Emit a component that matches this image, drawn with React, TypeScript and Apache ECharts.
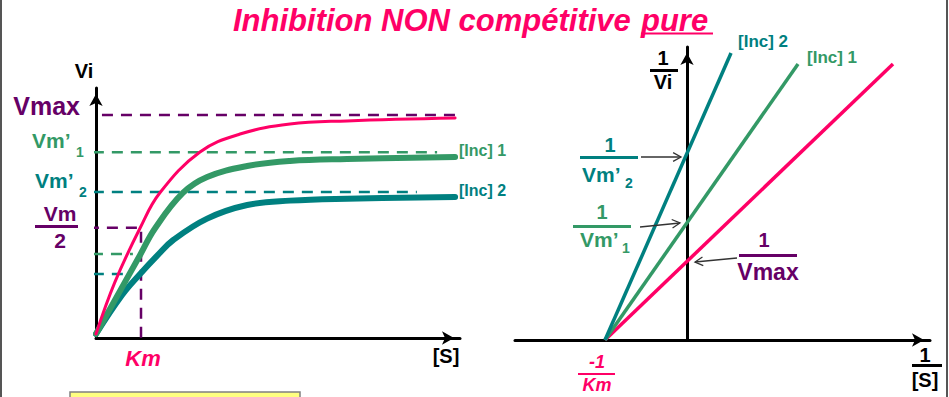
import React, { useEffect, useRef } from 'react';
import * as echarts from 'echarts';

const FONT = '"Liberation Sans", Arial, sans-serif';
const PINK = '#ff0066';
const GREEN = '#339966';
const TEAL = '#008080';
const PURPLE = '#660066';

// ---- Left panel: Michaelis-Menten curves (x in Km units, y in Vmax units)
const curveNoInhibitor = [
  [0, 0], [0.42, 0.237], [0.98, 0.484], [1.42, 0.645], [2.31, 0.831],
  [3.2, 0.913], [4.31, 0.959], [5.58, 0.973], [7.98, 0.986],
];
const curveInc1 = [
  [0, 0], [0.98, 0.361], [1.31, 0.482], [1.93, 0.644], [2.47, 0.717],
  [3.36, 0.767], [4.31, 0.79], [5.58, 0.799], [7.98, 0.808],
];
const curveInc2 = [
  [0, 0], [0.58, 0.178], [0.98, 0.274], [1.36, 0.358], [1.71, 0.428],
  [2.47, 0.527], [3.36, 0.589], [4.31, 0.609], [5.58, 0.618], [7.98, 0.626],
];
const vmax = 1.0;
const vmPrime1 = 0.83;
const vmPrime2 = 0.648;
const halfVmax = 0.485;
const km = 1.0;
const vAtKmInc1 = 0.365;
const vAtKmInc2 = 0.274;

// ---- Right panel: Lineweaver-Burk lines (x = 1/[S], y = 1/Vi)
const minusInvKm = -1.0;
const lbEndNoInhibitor = [2.512, 3.366];
const lbEndInc1 = [1.354, 3.366];
const lbEndInc2 = [0.537, 3.5];

const txt = (text: string, x: number, y: number, color: string, size: number, opts: any = {}) => ({
  type: 'text', x, y, silent: true, z: 10,
  style: {
    text, fill: color, fontSize: size, fontWeight: 'bold', fontFamily: FONT,
    fontStyle: opts.italic ? 'italic' : 'normal', align: opts.align || 'center', verticalAlign: 'middle',
  },
});
const bar = (x1: number, x2: number, y: number, color: string, h = 3) => ({
  type: 'rect', silent: true, z: 10, shape: { x: x1, y: y - h / 2, width: x2 - x1, height: h }, style: { fill: color },
});
const arrow = (x1: number, y1: number, x2: number, y2: number) => {
  const a = Math.atan2(y2 - y1, x2 - x1);
  const L = 9, s = 0.5;
  const p1 = [x2 - L * Math.cos(a - s), y2 - L * Math.sin(a - s)];
  const p2 = [x2 - L * Math.cos(a + s), y2 - L * Math.sin(a + s)];
  const st = { stroke: '#333', lineWidth: 1.3, fill: null };
  return [
    { type: 'line', silent: true, z: 10, shape: { x1, y1, x2, y2 }, style: st },
    { type: 'polyline', silent: true, z: 10, shape: { points: [p1, [x2, y2], p2] }, style: st },
  ];
};

const axisLine = (onZero: boolean) => ({
  show: true, onZero, symbol: ['none', 'arrow'], symbolSize: [10, 12], symbolOffset: [0, -6],
  lineStyle: { color: '#000', width: 3 },
});
const hiddenBits = { axisTick: { show: false }, axisLabel: { show: false }, splitLine: { show: false } };

const guide = (data: number[][], color: string, width = 2.5) => ({
  type: 'line', xAxisIndex: 0, yAxisIndex: 0, data, symbol: 'none', clip: false, silent: true,
  lineStyle: { color, width, type: [11, 8] }, z: 1,
});
const curve = (data: number[][], color: string, width: number) => ({
  type: 'line', xAxisIndex: 0, yAxisIndex: 0, data, symbol: 'none', smooth: 0.4,
  lineStyle: { color, width, cap: 'round', join: 'round' }, z: 3, silent: true,
});
const lbLine = (end: number[], color: string) => ({
  type: 'line', xAxisIndex: 1, yAxisIndex: 1, data: [[minusInvKm, 0], end], symbol: 'none', clip: false,
  lineStyle: { color, width: 3.5 }, z: 3, silent: true,
});

export default function App() {
  const ref = useRef<HTMLDivElement>(null);
  useEffect(() => {
    document.body.style.margin = '0';
    const chart = echarts.init(ref.current!, null, { renderer: 'svg' });
    const option: any = {
      animation: false,
      backgroundColor: '#fff',
      grid: [
        { left: 96, top: 88, width: 364, height: 250 },
        { left: 515, top: 47, width: 415, height: 293 },
      ],
      xAxis: [
        { type: 'value', gridIndex: 0, min: 0, max: 364 / 45, axisLine: axisLine(false), ...hiddenBits },
        { type: 'value', gridIndex: 1, min: -172 / 82, max: 243 / 82, axisLine: axisLine(true), ...hiddenBits },
      ],
      yAxis: [
        { type: 'value', gridIndex: 0, min: -4 / 219, max: 246 / 219, axisLine: axisLine(false), ...hiddenBits },
        { type: 'value', gridIndex: 1, min: 0, max: 293 / 82, axisLine: axisLine(true), ...hiddenBits },
      ],
      series: [
        guide([[-0.29, vmax], [8.31, vmax]], PURPLE),
        guide([[-0.07, vmPrime1], [7.58, vmPrime1]], GREEN),
        guide([[-0.07, vmPrime2], [7.13, vmPrime2]], TEAL),
        guide([[-0.18, halfVmax], [km, halfVmax], [km, -0.05]], PURPLE),
        guide([[-0.09, vAtKmInc1], [0.82, vAtKmInc1]], GREEN),
        guide([[-0.07, vAtKmInc2], [0.64, vAtKmInc2]], TEAL),
        curve(curveInc2, TEAL, 6),
        curve(curveInc1, GREEN, 6),
        curve(curveNoInhibitor, PINK, 3),
        lbLine(lbEndNoInhibitor, PINK),
        lbLine(lbEndInc1, GREEN),
        lbLine(lbEndInc2, TEAL),
      ],
      graphic: {
        elements: [
          { type: 'line', silent: true, shape: { x1: 1, y1: 0, x2: 1, y2: 397 }, style: { stroke: '#555', lineWidth: 2 } },
          { type: 'line', silent: true, shape: { x1: 947, y1: 0, x2: 947, y2: 397 }, style: { stroke: '#555', lineWidth: 2 } },
          // title
          txt('Inhibition NON compétitive', 233, 20, PINK, 31, { italic: true, align: 'left' }),
          txt('pure', 641, 20, PINK, 31, { italic: true, align: 'left' }),
          { type: 'line', silent: true, shape: { x1: 641, y1: 33.5, x2: 713, y2: 33.5 }, style: { stroke: PINK, lineWidth: 2 } },
          // left panel labels
          txt('Vi', 84, 71, '#000', 20),
          txt('Vmax', 80, 106, PURPLE, 25, { align: 'right' }),
          txt('Vm’', 32, 140, GREEN, 21, { align: 'left' }),
          txt('1', 80, 152, GREEN, 14),
          txt('Vm’', 35, 180, TEAL, 21, { align: 'left' }),
          txt('2', 83, 192, TEAL, 14),
          txt('Vm', 60, 213, PURPLE, 21),
          bar(35, 78, 226.5, PURPLE),
          txt('2', 60, 240, PURPLE, 21),
          txt('Km', 143, 358, PINK, 22, { italic: true }),
          txt('[S]', 446, 356, '#000', 20),
          txt('[Inc] 1', 459, 150, GREEN, 16, { align: 'left' }),
          txt('[Inc] 2', 459, 190, TEAL, 16, { align: 'left' }),
          // right panel labels
          txt('1', 663, 58, '#000', 20),
          bar(650, 678, 70.5, '#000'),
          txt('Vi', 663, 82, '#000', 20),
          txt('[Inc] 2', 738, 41, TEAL, 17, { align: 'left' }),
          txt('[Inc] 1', 807, 57, GREEN, 17, { align: 'left' }),
          txt('1', 610, 145, TEAL, 20),
          bar(580, 638, 157.5, TEAL),
          txt('Vm’', 582, 174, TEAL, 21, { align: 'left' }),
          txt('2', 629, 183, TEAL, 14),
          ...arrow(641, 157, 681, 157),
          txt('1', 602, 212, GREEN, 20),
          bar(573, 631, 226.5, GREEN),
          txt('Vm’', 580, 239, GREEN, 21, { align: 'left' }),
          txt('1', 626, 248, GREEN, 14),
          ...arrow(640, 227, 680, 223),
          txt('1', 764, 240, PURPLE, 20),
          bar(739, 797, 255.5, PURPLE),
          txt('Vmax', 768, 272, PURPLE, 23),
          ...arrow(737, 258, 695, 262),
          txt('-1', 597, 362, PINK, 18, { italic: true }),
          bar(578, 615, 374, PINK, 2),
          txt('Km', 597, 385, PINK, 18, { italic: true }),
          txt('1', 925, 355, '#000', 20),
          bar(912, 942, 365.5, '#000'),
          txt('[S]', 925, 380, '#000', 20),
          // yellow box
          { type: 'rect', silent: true, shape: { x: 70, y: 392, width: 230, height: 12 }, style: { fill: '#ffff80', stroke: '#808080', lineWidth: 1.5 } },
        ],
      },
    };
    chart.setOption(option);
    return () => chart.dispose();
  }, []);
  return <div ref={ref} style={{ width: 949, height: 397 }} />;
}
